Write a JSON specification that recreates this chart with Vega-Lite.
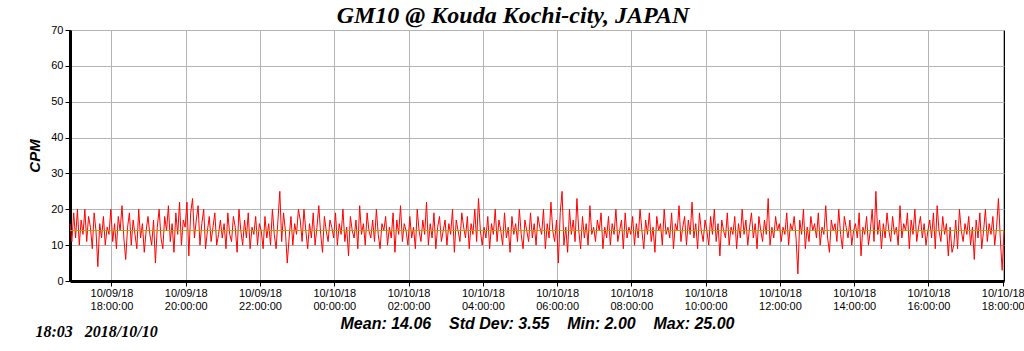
{
"$schema": "https://vega.github.io/schema/vega-lite/v6.json",
"width": 934, "height": 251,
"autosize": {"type": "none"},
"padding": {"left": 70, "top": 30, "right": 20, "bottom": 70},
"background": "white",
"config": {"view": {"stroke": "black", "strokeWidth": 1}, "font": "Liberation Sans"},
"title": {"text": "GM10 @ Kouda Kochi-city, JAPAN", "font": "Liberation Serif", "fontSize": 24, "fontWeight": "bold", "fontStyle": "italic", "color": "black", "anchor": "middle", "offset": 5, "dx": -24, "dy": 9},
"datasets": {
"cpm": [
{"t":"2018-10-09T16:53","v":16},{"t":"2018-10-09T16:56","v":11},{"t":"2018-10-09T16:59","v":19},
{"t":"2018-10-09T17:02","v":12},{"t":"2018-10-09T17:05","v":20},{"t":"2018-10-09T17:08","v":10},{"t":"2018-10-09T17:11","v":17},{"t":"2018-10-09T17:14","v":13},{"t":"2018-10-09T17:17","v":20},{"t":"2018-10-09T17:20","v":11},{"t":"2018-10-09T17:23","v":18},{"t":"2018-10-09T17:26","v":15},{"t":"2018-10-09T17:29","v":9},{"t":"2018-10-09T17:32","v":19},{"t":"2018-10-09T17:35","v":14},{"t":"2018-10-09T17:38","v":4},{"t":"2018-10-09T17:41","v":16},{"t":"2018-10-09T17:44","v":12},{"t":"2018-10-09T17:47","v":18},{"t":"2018-10-09T17:50","v":10},{"t":"2018-10-09T17:53","v":15},{"t":"2018-10-09T17:56","v":13},{"t":"2018-10-09T17:59","v":20},
{"t":"2018-10-09T18:02","v":11},{"t":"2018-10-09T18:05","v":16},{"t":"2018-10-09T18:08","v":9},{"t":"2018-10-09T18:11","v":18},{"t":"2018-10-09T18:14","v":14},{"t":"2018-10-09T18:17","v":21},{"t":"2018-10-09T18:20","v":12},{"t":"2018-10-09T18:23","v":6},{"t":"2018-10-09T18:26","v":15},{"t":"2018-10-09T18:29","v":19},{"t":"2018-10-09T18:32","v":10},{"t":"2018-10-09T18:35","v":17},{"t":"2018-10-09T18:38","v":13},{"t":"2018-10-09T18:41","v":9},{"t":"2018-10-09T18:44","v":20},{"t":"2018-10-09T18:47","v":12},{"t":"2018-10-09T18:50","v":16},{"t":"2018-10-09T18:53","v":8},{"t":"2018-10-09T18:56","v":14},{"t":"2018-10-09T18:59","v":18},
{"t":"2018-10-09T19:02","v":13},{"t":"2018-10-09T19:05","v":10},{"t":"2018-10-09T19:08","v":17},{"t":"2018-10-09T19:11","v":5},{"t":"2018-10-09T19:14","v":15},{"t":"2018-10-09T19:17","v":20},{"t":"2018-10-09T19:20","v":12},{"t":"2018-10-09T19:23","v":9},{"t":"2018-10-09T19:26","v":18},{"t":"2018-10-09T19:29","v":14},{"t":"2018-10-09T19:32","v":21},{"t":"2018-10-09T19:35","v":11},{"t":"2018-10-09T19:38","v":16},{"t":"2018-10-09T19:41","v":8},{"t":"2018-10-09T19:44","v":19},{"t":"2018-10-09T19:47","v":13},{"t":"2018-10-09T19:50","v":22},{"t":"2018-10-09T19:53","v":10},{"t":"2018-10-09T19:56","v":17},{"t":"2018-10-09T19:59","v":15},
{"t":"2018-10-09T20:02","v":22},{"t":"2018-10-09T20:05","v":7},{"t":"2018-10-09T20:08","v":19},{"t":"2018-10-09T20:11","v":23},{"t":"2018-10-09T20:14","v":12},{"t":"2018-10-09T20:17","v":17},{"t":"2018-10-09T20:20","v":21},{"t":"2018-10-09T20:23","v":10},{"t":"2018-10-09T20:26","v":16},{"t":"2018-10-09T20:29","v":20},{"t":"2018-10-09T20:32","v":9},{"t":"2018-10-09T20:35","v":14},{"t":"2018-10-09T20:38","v":18},{"t":"2018-10-09T20:41","v":11},{"t":"2018-10-09T20:44","v":15},{"t":"2018-10-09T20:47","v":19},{"t":"2018-10-09T20:50","v":10},{"t":"2018-10-09T20:53","v":13},{"t":"2018-10-09T20:56","v":17},{"t":"2018-10-09T20:59","v":12},
{"t":"2018-10-09T21:02","v":16},{"t":"2018-10-09T21:05","v":9},{"t":"2018-10-09T21:08","v":19},{"t":"2018-10-09T21:11","v":13},{"t":"2018-10-09T21:14","v":11},{"t":"2018-10-09T21:17","v":18},{"t":"2018-10-09T21:20","v":15},{"t":"2018-10-09T21:23","v":8},{"t":"2018-10-09T21:26","v":20},{"t":"2018-10-09T21:29","v":14},{"t":"2018-10-09T21:32","v":10},{"t":"2018-10-09T21:35","v":17},{"t":"2018-10-09T21:38","v":12},{"t":"2018-10-09T21:41","v":19},{"t":"2018-10-09T21:44","v":9},{"t":"2018-10-09T21:47","v":15},{"t":"2018-10-09T21:50","v":13},{"t":"2018-10-09T21:53","v":18},{"t":"2018-10-09T21:56","v":10},{"t":"2018-10-09T21:59","v":16},
{"t":"2018-10-09T22:02","v":14},{"t":"2018-10-09T22:05","v":9},{"t":"2018-10-09T22:08","v":18},{"t":"2018-10-09T22:11","v":12},{"t":"2018-10-09T22:14","v":16},{"t":"2018-10-09T22:17","v":10},{"t":"2018-10-09T22:20","v":20},{"t":"2018-10-09T22:23","v":13},{"t":"2018-10-09T22:26","v":9},{"t":"2018-10-09T22:29","v":17},{"t":"2018-10-09T22:32","v":25},{"t":"2018-10-09T22:35","v":11},{"t":"2018-10-09T22:38","v":19},{"t":"2018-10-09T22:41","v":14},{"t":"2018-10-09T22:44","v":5},{"t":"2018-10-09T22:47","v":12},{"t":"2018-10-09T22:50","v":18},{"t":"2018-10-09T22:53","v":10},{"t":"2018-10-09T22:56","v":16},{"t":"2018-10-09T22:59","v":13},
{"t":"2018-10-09T23:02","v":20},{"t":"2018-10-09T23:05","v":17},{"t":"2018-10-09T23:08","v":11},{"t":"2018-10-09T23:11","v":20},{"t":"2018-10-09T23:14","v":14},{"t":"2018-10-09T23:17","v":9},{"t":"2018-10-09T23:20","v":16},{"t":"2018-10-09T23:23","v":12},{"t":"2018-10-09T23:26","v":19},{"t":"2018-10-09T23:29","v":10},{"t":"2018-10-09T23:32","v":15},{"t":"2018-10-09T23:35","v":21},{"t":"2018-10-09T23:38","v":13},{"t":"2018-10-09T23:41","v":8},{"t":"2018-10-09T23:44","v":18},{"t":"2018-10-09T23:47","v":14},{"t":"2018-10-09T23:50","v":11},{"t":"2018-10-09T23:53","v":17},{"t":"2018-10-09T23:56","v":15},{"t":"2018-10-09T23:59","v":12},
{"t":"2018-10-10T00:02","v":19},{"t":"2018-10-10T00:05","v":10},{"t":"2018-10-10T00:08","v":16},{"t":"2018-10-10T00:11","v":13},{"t":"2018-10-10T00:14","v":20},{"t":"2018-10-10T00:17","v":11},{"t":"2018-10-10T00:20","v":15},{"t":"2018-10-10T00:23","v":7},{"t":"2018-10-10T00:26","v":18},{"t":"2018-10-10T00:29","v":14},{"t":"2018-10-10T00:32","v":12},{"t":"2018-10-10T00:35","v":17},{"t":"2018-10-10T00:38","v":9},{"t":"2018-10-10T00:41","v":21},{"t":"2018-10-10T00:44","v":13},{"t":"2018-10-10T00:47","v":16},{"t":"2018-10-10T00:50","v":10},{"t":"2018-10-10T00:53","v":19},{"t":"2018-10-10T00:56","v":14},{"t":"2018-10-10T00:59","v":12},
{"t":"2018-10-10T01:02","v":17},{"t":"2018-10-10T01:05","v":11},{"t":"2018-10-10T01:08","v":20},{"t":"2018-10-10T01:11","v":13},{"t":"2018-10-10T01:14","v":9},{"t":"2018-10-10T01:17","v":16},{"t":"2018-10-10T01:20","v":14},{"t":"2018-10-10T01:23","v":18},{"t":"2018-10-10T01:26","v":10},{"t":"2018-10-10T01:29","v":15},{"t":"2018-10-10T01:32","v":12},{"t":"2018-10-10T01:35","v":19},{"t":"2018-10-10T01:38","v":8},{"t":"2018-10-10T01:41","v":17},{"t":"2018-10-10T01:44","v":13},{"t":"2018-10-10T01:47","v":21},{"t":"2018-10-10T01:50","v":11},{"t":"2018-10-10T01:53","v":16},{"t":"2018-10-10T01:56","v":14},{"t":"2018-10-10T01:59","v":10},
{"t":"2018-10-10T02:02","v":18},{"t":"2018-10-10T02:05","v":12},{"t":"2018-10-10T02:08","v":15},{"t":"2018-10-10T02:11","v":9},{"t":"2018-10-10T02:14","v":20},{"t":"2018-10-10T02:17","v":14},{"t":"2018-10-10T02:20","v":11},{"t":"2018-10-10T02:23","v":17},{"t":"2018-10-10T02:26","v":13},{"t":"2018-10-10T02:29","v":22},{"t":"2018-10-10T02:32","v":10},{"t":"2018-10-10T02:35","v":16},{"t":"2018-10-10T02:38","v":12},{"t":"2018-10-10T02:41","v":19},{"t":"2018-10-10T02:44","v":9},{"t":"2018-10-10T02:47","v":15},{"t":"2018-10-10T02:50","v":18},{"t":"2018-10-10T02:53","v":11},{"t":"2018-10-10T02:56","v":14},{"t":"2018-10-10T02:59","v":17},
{"t":"2018-10-10T03:02","v":10},{"t":"2018-10-10T03:05","v":16},{"t":"2018-10-10T03:08","v":13},{"t":"2018-10-10T03:11","v":20},{"t":"2018-10-10T03:14","v":8},{"t":"2018-10-10T03:17","v":17},{"t":"2018-10-10T03:20","v":14},{"t":"2018-10-10T03:23","v":11},{"t":"2018-10-10T03:26","v":19},{"t":"2018-10-10T03:29","v":15},{"t":"2018-10-10T03:32","v":12},{"t":"2018-10-10T03:35","v":18},{"t":"2018-10-10T03:38","v":9},{"t":"2018-10-10T03:41","v":16},{"t":"2018-10-10T03:44","v":13},{"t":"2018-10-10T03:47","v":20},{"t":"2018-10-10T03:50","v":11},{"t":"2018-10-10T03:53","v":23},{"t":"2018-10-10T03:56","v":14},{"t":"2018-10-10T03:59","v":10},
{"t":"2018-10-10T04:02","v":15},{"t":"2018-10-10T04:05","v":12},{"t":"2018-10-10T04:08","v":18},{"t":"2018-10-10T04:11","v":9},{"t":"2018-10-10T04:14","v":16},{"t":"2018-10-10T04:17","v":13},{"t":"2018-10-10T04:20","v":20},{"t":"2018-10-10T04:23","v":11},{"t":"2018-10-10T04:26","v":17},{"t":"2018-10-10T04:29","v":14},{"t":"2018-10-10T04:32","v":10},{"t":"2018-10-10T04:35","v":19},{"t":"2018-10-10T04:38","v":12},{"t":"2018-10-10T04:41","v":15},{"t":"2018-10-10T04:44","v":8},{"t":"2018-10-10T04:47","v":18},{"t":"2018-10-10T04:50","v":13},{"t":"2018-10-10T04:53","v":16},{"t":"2018-10-10T04:56","v":11},{"t":"2018-10-10T04:59","v":20},
{"t":"2018-10-10T05:02","v":13},{"t":"2018-10-10T05:05","v":9},{"t":"2018-10-10T05:08","v":17},{"t":"2018-10-10T05:11","v":14},{"t":"2018-10-10T05:14","v":11},{"t":"2018-10-10T05:17","v":19},{"t":"2018-10-10T05:20","v":12},{"t":"2018-10-10T05:23","v":16},{"t":"2018-10-10T05:26","v":10},{"t":"2018-10-10T05:29","v":18},{"t":"2018-10-10T05:32","v":15},{"t":"2018-10-10T05:35","v":13},{"t":"2018-10-10T05:38","v":20},{"t":"2018-10-10T05:41","v":9},{"t":"2018-10-10T05:44","v":16},{"t":"2018-10-10T05:47","v":12},{"t":"2018-10-10T05:50","v":22},{"t":"2018-10-10T05:53","v":14},{"t":"2018-10-10T05:56","v":11},{"t":"2018-10-10T05:59","v":17},
{"t":"2018-10-10T06:02","v":5},{"t":"2018-10-10T06:05","v":19},{"t":"2018-10-10T06:08","v":25},{"t":"2018-10-10T06:11","v":10},{"t":"2018-10-10T06:14","v":15},{"t":"2018-10-10T06:17","v":8},{"t":"2018-10-10T06:20","v":20},{"t":"2018-10-10T06:23","v":13},{"t":"2018-10-10T06:26","v":17},{"t":"2018-10-10T06:29","v":11},{"t":"2018-10-10T06:32","v":23},{"t":"2018-10-10T06:35","v":14},{"t":"2018-10-10T06:38","v":9},{"t":"2018-10-10T06:41","v":18},{"t":"2018-10-10T06:44","v":12},{"t":"2018-10-10T06:47","v":16},{"t":"2018-10-10T06:50","v":10},{"t":"2018-10-10T06:53","v":21},{"t":"2018-10-10T06:56","v":13},{"t":"2018-10-10T06:59","v":15},
{"t":"2018-10-10T07:02","v":11},{"t":"2018-10-10T07:05","v":17},{"t":"2018-10-10T07:08","v":14},{"t":"2018-10-10T07:11","v":19},{"t":"2018-10-10T07:14","v":9},{"t":"2018-10-10T07:17","v":15},{"t":"2018-10-10T07:20","v":12},{"t":"2018-10-10T07:23","v":18},{"t":"2018-10-10T07:26","v":10},{"t":"2018-10-10T07:29","v":16},{"t":"2018-10-10T07:32","v":13},{"t":"2018-10-10T07:35","v":20},{"t":"2018-10-10T07:38","v":11},{"t":"2018-10-10T07:41","v":14},{"t":"2018-10-10T07:44","v":17},{"t":"2018-10-10T07:47","v":9},{"t":"2018-10-10T07:50","v":19},{"t":"2018-10-10T07:53","v":12},{"t":"2018-10-10T07:56","v":15},{"t":"2018-10-10T07:59","v":13},
{"t":"2018-10-10T08:02","v":18},{"t":"2018-10-10T08:05","v":10},{"t":"2018-10-10T08:08","v":16},{"t":"2018-10-10T08:11","v":12},{"t":"2018-10-10T08:14","v":20},{"t":"2018-10-10T08:17","v":14},{"t":"2018-10-10T08:20","v":9},{"t":"2018-10-10T08:23","v":17},{"t":"2018-10-10T08:26","v":13},{"t":"2018-10-10T08:29","v":19},{"t":"2018-10-10T08:32","v":11},{"t":"2018-10-10T08:35","v":15},{"t":"2018-10-10T08:38","v":8},{"t":"2018-10-10T08:41","v":18},{"t":"2018-10-10T08:44","v":14},{"t":"2018-10-10T08:47","v":16},{"t":"2018-10-10T08:50","v":10},{"t":"2018-10-10T08:53","v":20},{"t":"2018-10-10T08:56","v":13},{"t":"2018-10-10T08:59","v":15},
{"t":"2018-10-10T09:02","v":12},{"t":"2018-10-10T09:05","v":19},{"t":"2018-10-10T09:08","v":9},{"t":"2018-10-10T09:11","v":16},{"t":"2018-10-10T09:14","v":14},{"t":"2018-10-10T09:17","v":21},{"t":"2018-10-10T09:20","v":11},{"t":"2018-10-10T09:23","v":15},{"t":"2018-10-10T09:26","v":18},{"t":"2018-10-10T09:29","v":10},{"t":"2018-10-10T09:32","v":17},{"t":"2018-10-10T09:35","v":13},{"t":"2018-10-10T09:38","v":22},{"t":"2018-10-10T09:41","v":12},{"t":"2018-10-10T09:44","v":16},{"t":"2018-10-10T09:47","v":9},{"t":"2018-10-10T09:50","v":19},{"t":"2018-10-10T09:53","v":14},{"t":"2018-10-10T09:56","v":11},{"t":"2018-10-10T09:59","v":17},
{"t":"2018-10-10T10:02","v":14},{"t":"2018-10-10T10:05","v":10},{"t":"2018-10-10T10:08","v":18},{"t":"2018-10-10T10:11","v":13},{"t":"2018-10-10T10:14","v":20},{"t":"2018-10-10T10:17","v":11},{"t":"2018-10-10T10:20","v":16},{"t":"2018-10-10T10:23","v":7},{"t":"2018-10-10T10:26","v":17},{"t":"2018-10-10T10:29","v":14},{"t":"2018-10-10T10:32","v":12},{"t":"2018-10-10T10:35","v":19},{"t":"2018-10-10T10:38","v":10},{"t":"2018-10-10T10:41","v":15},{"t":"2018-10-10T10:44","v":13},{"t":"2018-10-10T10:47","v":18},{"t":"2018-10-10T10:50","v":9},{"t":"2018-10-10T10:53","v":16},{"t":"2018-10-10T10:56","v":12},{"t":"2018-10-10T10:59","v":20},
{"t":"2018-10-10T11:02","v":13},{"t":"2018-10-10T11:05","v":17},{"t":"2018-10-10T11:08","v":10},{"t":"2018-10-10T11:11","v":15},{"t":"2018-10-10T11:14","v":19},{"t":"2018-10-10T11:17","v":12},{"t":"2018-10-10T11:20","v":16},{"t":"2018-10-10T11:23","v":9},{"t":"2018-10-10T11:26","v":18},{"t":"2018-10-10T11:29","v":14},{"t":"2018-10-10T11:32","v":11},{"t":"2018-10-10T11:35","v":17},{"t":"2018-10-10T11:38","v":13},{"t":"2018-10-10T11:41","v":23},{"t":"2018-10-10T11:44","v":10},{"t":"2018-10-10T11:47","v":15},{"t":"2018-10-10T11:50","v":12},{"t":"2018-10-10T11:53","v":18},{"t":"2018-10-10T11:56","v":14},{"t":"2018-10-10T11:59","v":16},
{"t":"2018-10-10T12:02","v":11},{"t":"2018-10-10T12:05","v":15},{"t":"2018-10-10T12:08","v":13},{"t":"2018-10-10T12:11","v":19},{"t":"2018-10-10T12:14","v":10},{"t":"2018-10-10T12:17","v":16},{"t":"2018-10-10T12:20","v":14},{"t":"2018-10-10T12:23","v":18},{"t":"2018-10-10T12:26","v":12},{"t":"2018-10-10T12:29","v":2},{"t":"2018-10-10T12:32","v":17},{"t":"2018-10-10T12:35","v":13},{"t":"2018-10-10T12:38","v":20},{"t":"2018-10-10T12:41","v":9},{"t":"2018-10-10T12:44","v":15},{"t":"2018-10-10T12:47","v":11},{"t":"2018-10-10T12:50","v":18},{"t":"2018-10-10T12:53","v":14},{"t":"2018-10-10T12:56","v":16},{"t":"2018-10-10T12:59","v":12},
{"t":"2018-10-10T13:02","v":19},{"t":"2018-10-10T13:05","v":10},{"t":"2018-10-10T13:08","v":15},{"t":"2018-10-10T13:11","v":13},{"t":"2018-10-10T13:14","v":21},{"t":"2018-10-10T13:17","v":12},{"t":"2018-10-10T13:20","v":8},{"t":"2018-10-10T13:23","v":17},{"t":"2018-10-10T13:26","v":14},{"t":"2018-10-10T13:29","v":16},{"t":"2018-10-10T13:32","v":11},{"t":"2018-10-10T13:35","v":20},{"t":"2018-10-10T13:38","v":13},{"t":"2018-10-10T13:41","v":9},{"t":"2018-10-10T13:44","v":18},{"t":"2018-10-10T13:47","v":15},{"t":"2018-10-10T13:50","v":12},{"t":"2018-10-10T13:53","v":17},{"t":"2018-10-10T13:56","v":10},{"t":"2018-10-10T13:59","v":14},
{"t":"2018-10-10T14:02","v":16},{"t":"2018-10-10T14:05","v":12},{"t":"2018-10-10T14:08","v":19},{"t":"2018-10-10T14:11","v":7},{"t":"2018-10-10T14:14","v":15},{"t":"2018-10-10T14:17","v":13},{"t":"2018-10-10T14:20","v":18},{"t":"2018-10-10T14:23","v":10},{"t":"2018-10-10T14:26","v":14},{"t":"2018-10-10T14:29","v":20},{"t":"2018-10-10T14:32","v":11},{"t":"2018-10-10T14:35","v":25},{"t":"2018-10-10T14:38","v":13},{"t":"2018-10-10T14:41","v":17},{"t":"2018-10-10T14:44","v":9},{"t":"2018-10-10T14:47","v":16},{"t":"2018-10-10T14:50","v":12},{"t":"2018-10-10T14:53","v":19},{"t":"2018-10-10T14:56","v":14},{"t":"2018-10-10T14:59","v":11},
{"t":"2018-10-10T15:02","v":18},{"t":"2018-10-10T15:05","v":13},{"t":"2018-10-10T15:08","v":15},{"t":"2018-10-10T15:11","v":10},{"t":"2018-10-10T15:14","v":21},{"t":"2018-10-10T15:17","v":12},{"t":"2018-10-10T15:20","v":16},{"t":"2018-10-10T15:23","v":14},{"t":"2018-10-10T15:26","v":19},{"t":"2018-10-10T15:29","v":9},{"t":"2018-10-10T15:32","v":17},{"t":"2018-10-10T15:35","v":13},{"t":"2018-10-10T15:38","v":20},{"t":"2018-10-10T15:41","v":11},{"t":"2018-10-10T15:44","v":15},{"t":"2018-10-10T15:47","v":18},{"t":"2018-10-10T15:50","v":12},{"t":"2018-10-10T15:53","v":16},{"t":"2018-10-10T15:56","v":10},{"t":"2018-10-10T15:59","v":14},
{"t":"2018-10-10T16:02","v":17},{"t":"2018-10-10T16:05","v":12},{"t":"2018-10-10T16:08","v":19},{"t":"2018-10-10T16:11","v":9},{"t":"2018-10-10T16:14","v":21},{"t":"2018-10-10T16:17","v":14},{"t":"2018-10-10T16:20","v":11},{"t":"2018-10-10T16:23","v":18},{"t":"2018-10-10T16:26","v":13},{"t":"2018-10-10T16:29","v":16},{"t":"2018-10-10T16:32","v":7},{"t":"2018-10-10T16:35","v":15},{"t":"2018-10-10T16:38","v":8},{"t":"2018-10-10T16:41","v":10},{"t":"2018-10-10T16:44","v":17},{"t":"2018-10-10T16:47","v":9},{"t":"2018-10-10T16:50","v":20},{"t":"2018-10-10T16:53","v":14},{"t":"2018-10-10T16:56","v":11},{"t":"2018-10-10T16:59","v":16},
{"t":"2018-10-10T17:02","v":13},{"t":"2018-10-10T17:05","v":18},{"t":"2018-10-10T17:08","v":10},{"t":"2018-10-10T17:11","v":15},{"t":"2018-10-10T17:14","v":6},{"t":"2018-10-10T17:17","v":17},{"t":"2018-10-10T17:20","v":12},{"t":"2018-10-10T17:23","v":19},{"t":"2018-10-10T17:26","v":9},{"t":"2018-10-10T17:29","v":14},{"t":"2018-10-10T17:32","v":20},{"t":"2018-10-10T17:35","v":11},{"t":"2018-10-10T17:38","v":16},{"t":"2018-10-10T17:41","v":13},{"t":"2018-10-10T17:44","v":18},{"t":"2018-10-10T17:47","v":10},{"t":"2018-10-10T17:50","v":15},{"t":"2018-10-10T17:53","v":23},{"t":"2018-10-10T17:56","v":12},{"t":"2018-10-10T17:59","v":3},
{"t":"2018-10-10T18:02","v":14}
],
"stats": [{"t0": "2018-10-09T16:53", "t1": "2018-10-10T18:02", "mean": 14.06}]
},
"layer": [
{"data": {"name": "cpm"},
 "mark": {"type": "line", "color": "#ff0000", "strokeWidth": 1},
 "encoding": {
  "x": {"field": "t", "type": "temporal",
   "scale": {"domain": [{"year": 2018, "month": 10, "date": 9, "hours": 16, "minutes": 53}, {"year": 2018, "month": 10, "date": 10, "hours": 18, "minutes": 2}]},
   "axis": {"orient": "bottom",
    "values": [
     {"year": 2018, "month": 10, "date": 9, "hours": 18},
     {"year": 2018, "month": 10, "date": 9, "hours": 20},
     {"year": 2018, "month": 10, "date": 9, "hours": 22},
     {"year": 2018, "month": 10, "date": 10, "hours": 0},
     {"year": 2018, "month": 10, "date": 10, "hours": 2},
     {"year": 2018, "month": 10, "date": 10, "hours": 4},
     {"year": 2018, "month": 10, "date": 10, "hours": 6},
     {"year": 2018, "month": 10, "date": 10, "hours": 8},
     {"year": 2018, "month": 10, "date": 10, "hours": 10},
     {"year": 2018, "month": 10, "date": 10, "hours": 12},
     {"year": 2018, "month": 10, "date": 10, "hours": 14},
     {"year": 2018, "month": 10, "date": 10, "hours": 16},
     {"year": 2018, "month": 10, "date": 10, "hours": 18}],
    "labelExpr": "[timeFormat(datum.value, '%m/%d/%y'), timeFormat(datum.value, '%H:%M:%S')]",
    "labelFont": "Liberation Sans", "labelFontSize": 11, "labelColor": "black", "labelPadding": 1,
    "labelOverlap": false, "labelFlush": false,
    "tickColor": "black", "tickSize": 5, "domainColor": "black", "domainWidth": 3,
    "grid": true, "gridColor": "#b4b4b4",
    "title": "Mean: 14.06\u00a0\u00a0\u00a0\u00a0Std Dev: 3.55\u00a0\u00a0\u00a0\u00a0Min: 2.00\u00a0\u00a0\u00a0\u00a0Max: 25.00",
    "titleFont": "Liberation Sans", "titleFontSize": 16, "titleFontWeight": "bold", "titleFontStyle": "italic", "titleColor": "black", "titlePadding": 4}},
  "y": {"field": "v", "type": "quantitative", "scale": {"domain": [0, 70]},
   "axis": {"values": [0, 10, 20, 30, 40, 50, 60, 70], "labelOverlap": false, "labelFont": "Liberation Sans", "labelFontSize": 11, "labelColor": "black", "labelPadding": 2,
    "tickColor": "black", "tickSize": 5, "domainColor": "black", "domainWidth": 3,
    "grid": true, "gridColor": "#b4b4b4",
    "title": "CPM", "titleFont": "Liberation Sans", "titleFontSize": 15, "titleFontWeight": "bold", "titleFontStyle": "italic", "titleColor": "black", "titlePadding": 8}}
 }},
{"data": {"name": "stats"},
 "mark": {"type": "rule", "color": "#b0a000", "strokeWidth": 1},
 "encoding": {
  "x": {"field": "t0", "type": "temporal",
   "scale": {"domain": [{"year": 2018, "month": 10, "date": 9, "hours": 16, "minutes": 53}, {"year": 2018, "month": 10, "date": 10, "hours": 18, "minutes": 2}]},
   "axis": {"orient": "top", "labels": false, "ticks": false, "domain": false, "grid": false,
    "title": "18:03\u00a0\u00a0\u00a02018/10/10", "titleFont": "Liberation Serif", "titleFontSize": 16, "titleFontWeight": "bold", "titleFontStyle": "italic", "titleColor": "black",
    "titleAnchor": "start", "titleAlign": "left", "titleBaseline": "middle", "titleX": -35, "titleY": 301}},
  "x2": {"field": "t1"},
  "y": {"field": "mean", "type": "quantitative", "scale": {"domain": [0, 70]},
   "axis": {"values": [0, 10, 20, 30, 40, 50, 60, 70], "labelOverlap": false, "labelFont": "Liberation Sans", "labelFontSize": 11, "labelColor": "black", "labelPadding": 2,
    "tickColor": "black", "tickSize": 5, "domainColor": "black", "domainWidth": 3,
    "grid": true, "gridColor": "#b4b4b4",
    "title": "CPM", "titleFont": "Liberation Sans", "titleFontSize": 15, "titleFontWeight": "bold", "titleFontStyle": "italic", "titleColor": "black", "titlePadding": 8}}
 }}
],
"resolve": {"scale": {"x": "independent"}, "axis": {"x": "independent"}}
}
